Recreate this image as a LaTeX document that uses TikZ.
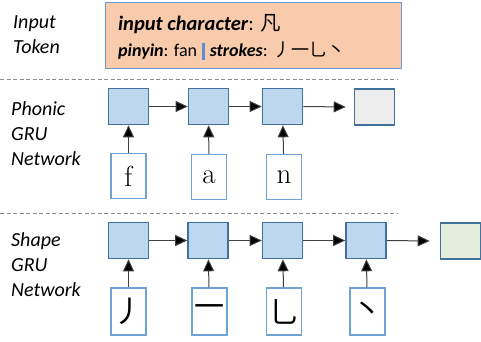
\documentclass[tikz,border=0pt]{standalone}
\usepackage{fontspec}
\setmainfont{Carlito}
\newfontfamily\cjk{Noto Sans CJK SC}
\newfontfamily\serifletters{Latin Modern Roman}
\usetikzlibrary{arrows.meta}

\definecolor{cellfill}{HTML}{BDD7EE}
\definecolor{celldraw}{HTML}{41719C}
\definecolor{inputdraw}{HTML}{6FA3D6}
\definecolor{tokenfill}{HTML}{F8CBAD}
\definecolor{tokendraw}{HTML}{6C9BD2}
\definecolor{outgray}{HTML}{EDEDED}
\definecolor{outgreen}{HTML}{E2EFDA}
\definecolor{linkgray}{HTML}{404040}
\definecolor{sepgray}{HTML}{8C8C8C}
\definecolor{barblue}{HTML}{5B8FD0}

\tikzset{
  gru/.style={draw=celldraw, line width=1.6pt, fill=cellfill,
    minimum width=40pt, minimum height=36pt, inner sep=0pt},
  outcell/.style={gru},
  inbox/.style={draw=inputdraw, line width=1.1pt, fill=white,
    minimum width=35pt, minimum height=45pt, inner sep=0pt},
  link/.style={draw=linkgray, line width=1pt,
    -{Triangle[length=12pt,width=11pt,fill=black]}},
  sep/.style={draw=sepgray, line width=0.7pt, dash pattern=on 4pt off 2.5pt},
  rowlabel/.style={font=\fontsize{20}{25}\selectfont\itshape, align=left,
    anchor=north west, inner sep=0pt},
  letter/.style={font=\serifletters\fontsize{29}{29}\selectfont},
  stroke/.style={font=\cjk\fontsize{30}{30}\selectfont}
}

\begin{document}
\begin{tikzpicture}[x=1pt, y=-1pt]
\useasboundingbox (0,0) rectangle (481,342);

% input token box
\node[draw=tokendraw, line width=1.1pt, fill=tokenfill,
      minimum width=296pt, minimum height=66pt, anchor=north west, inner sep=0pt]
  (token) at (105,2) {};
\node[anchor=base west, inner sep=0pt, font=\fontsize{20.5}{24}\selectfont] (tokline1) at (118,31)
  {\textbf{\textit{input character}}: {\cjk 凡}};
\node[anchor=base west, inner sep=0pt, font=\fontsize{18}{20}\selectfont] (tokline2) at (118,57)
  {\textbf{\textit{pinyin}}: fan\hspace{5pt}\textcolor{barblue}{\rule[-3pt]{2.6pt}{17pt}}\hspace{5pt}\textbf{\textit{strokes}}: {\cjk 丿一乚丶}};

% row labels
\node[rowlabel] (lblinput) at (13,15) {Input\\Token};
\node[rowlabel] (lblphonic) at (11,101) {Phonic\\GRU\\Network};
\node[rowlabel] (lblshape) at (11,232) {Shape\\GRU\\Network};

% separators
\coordinate (s1a) at (0,79);  \coordinate (s1b) at (397,79);
\coordinate (s2a) at (0,213); \coordinate (s2b) at (397,213);
\draw[sep] (s1a) -- (s1b);
\draw[sep] (s2a) -- (s2b);

% phonic GRU row
\node[gru] (p1) at (128.5,106.5) {};
\node[gru] (p2) at (208.5,106.5) {};
\node[gru] (p3) at (282.5,106.5) {};
\node[outcell, fill=outgray] (pout) at (374.5,107) {};
\node[inbox, letter] (pf) at (128.5,176) {f};
\node[inbox, letter] (pa) at (209,177) {a};
\node[inbox, letter] (pn) at (284,177) {n};
\draw[link] (p1) -- (p2);
\draw[link] (p2) -- (p3);
\draw[link] (p3.east) -- ([xshift=-8pt]pout.west);
\draw[link] (pf) -- (p1);
\draw[link] (pa) -- (p2);
\draw[link] (pn) -- (p3);

% shape GRU row
\node[gru] (s1) at (128.5,240.5) {};
\node[gru] (s2) at (208,240.5) {};
\node[gru] (s3) at (282.5,240.5) {};
\node[gru] (s4) at (366,240.5) {};
\node[outcell, fill=outgreen] (sout) at (460.5,241) {};
\node[inbox, stroke, minimum height=47pt] (k1) at (128.5,311.5) {丿};
\node[inbox, stroke, minimum height=47pt] (k2) at (209.5,311.5) {一};
\node[inbox, stroke, minimum height=47pt] (k3) at (284,311.5) {乚};
\node[inbox, stroke, minimum height=47pt] (k4) at (367.5,311.5) {丶};
\draw[link] (s1) -- (s2);
\draw[link] (s2) -- (s3);
\draw[link] (s3) -- (s4);
\draw[link] (s4.east) -- ([xshift=-10pt]sout.west);
\draw[link] (k1) -- (s1);
\draw[link] (k2) -- (s2);
\draw[link] (k3) -- (s3);
\draw[link] (k4) -- (s4);
\end{tikzpicture}
\end{document}
